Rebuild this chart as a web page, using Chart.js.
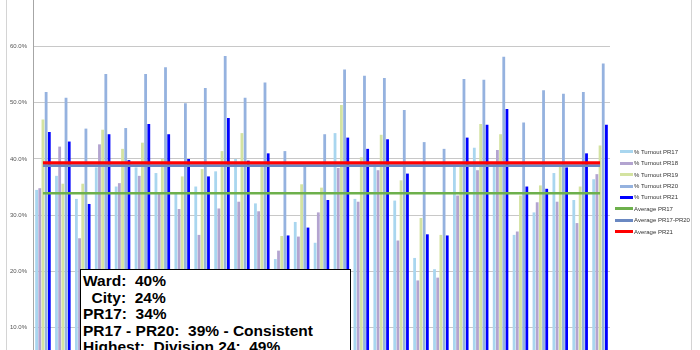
<!DOCTYPE html>
<html><head><meta charset="utf-8">
<script src="https://cdn.jsdelivr.net/npm/chart.js@4.4.1/dist/chart.umd.min.js"></script>
<style>
html,body{margin:0;padding:0;width:700px;height:350px;overflow:hidden;background:#fff;}
#wrap{position:relative;width:700px;height:350px;overflow:hidden;}
#c{position:absolute;left:0;top:0;}
#frame{position:absolute;left:6px;top:-2px;width:684px;height:360px;border-left:1px solid #d4d4d4;border-right:1px solid #d4d4d4;pointer-events:none;}
#note{position:absolute;left:80px;top:269px;width:267px;height:100px;background:#fff;border:1px solid #000;font-family:"Liberation Sans",Arial,sans-serif;font-weight:bold;font-size:15.5px;line-height:16.6px;white-space:pre;padding:3px 0 0 2px;color:#000;box-sizing:content-box;}
#legend{position:absolute;left:614px;top:146px;font-family:"Liberation Sans",Arial,sans-serif;font-size:6px;color:#333;}
.li{display:flex;align-items:center;height:11.45px;white-space:nowrap;}
.sw{display:inline-block;height:3px;margin-right:1px;}
</style></head>
<body>
<div id="wrap">
<canvas id="c" width="700" height="350"></canvas>
<div id="frame"></div>
<div id="legend"></div>
<div id="note">Ward:  40%
  City:  24%
PR17:  34%
PR17 - PR20:  39% - Consistent
Highest:  Division 24:  49%</div>
</div>
<script>
const categories = ['Division 1','Division 2','Division 3','Division 4','Division 5','Division 6','Division 7','Division 8','Division 9','Division 10',
  'Division 11','Division 12','Division 13','Division 14','Division 15','Division 16','Division 17','Division 18','Division 19','Division 20',
  'Division 21','Division 22','Division 23','Division 24','Division 25','Division 26','Division 27','Division 28','Division 29'];
const turnoutPR17 = [34.5,37.0,32.9,38.5,35.1,38.5,37.5,33.9,35.1,37.8,40.0,32.1,22.2,28.8,25.1,44.6,32.9,39.0,32.6,22.4,20.4,38.8,42.0,39.0,26.5,30.5,37.5,32.7,36.4];
const turnoutPR18 = [34.8,42.2,25.9,42.6,35.7,37.0,34.0,31.1,26.5,31.2,32.4,30.7,23.7,26.2,30.5,38.4,32.4,38.0,25.5,18.4,18.9,33.5,38.0,41.6,27.1,32.3,32.4,28.6,37.3];
const turnoutPR19 = [47.0,35.6,35.6,45.2,41.8,42.9,40.0,36.9,38.2,41.4,44.6,39.0,26.3,35.5,34.9,49.6,40.3,44.3,36.2,29.5,26.5,38.9,46.2,44.4,33.5,35.3,38.7,35.1,42.4];
const turnoutPR20 = [51.9,50.9,45.4,55.1,45.5,55.1,56.3,49.9,52.6,58.3,50.9,53.6,41.4,38.8,44.4,55.9,54.8,54.4,48.7,43.0,41.8,54.2,54.1,58.2,46.5,52.2,51.6,51.9,57.0];
const turnoutPR21 = [44.8,43.1,32.0,44.4,39.8,46.2,44.4,40.0,36.9,47.3,39.7,41.0,26.4,27.8,32.7,43.8,41.8,43.5,37.4,26.6,26.4,43.8,46.1,48.9,35.1,34.7,38.5,41.0,46.1];
const averagePR17 = 33.9;
const averagePR17toPR20 = 38.8;
const averagePR21 = 39.3;
const yTickValues = [10,20,30,40,50,60];

const barColors = ['#A9D6EF','#B3A4D0','#D4E3A1','#95B2DF','#0000FF'];
const barLabels = ['% Turnout PR17','% Turnout PR18','% Turnout PR19','% Turnout PR20','% Turnout PR21'];
const barSeries = [turnoutPR17,turnoutPR18,turnoutPR19,turnoutPR20,turnoutPR21];

const datasets = barSeries.map((d,i)=>({
  type:'bar', label:barLabels[i], data:d, backgroundColor:barColors[i],
  categoryPercentage:0.8, barPercentage:0.88, order:2
}));
const lineDefs = [
  ['Average PR17', averagePR17, '#6DB04C', 2.5],
  ['Average PR17-PR20', averagePR17toPR20, '#6A88C2', 2.5],
  ['Average PR21', averagePR21, '#FF0000', 3.5]
];
lineDefs.forEach(([lab,val,col,w])=>{
  datasets.push({type:'line', label:lab, data:categories.map(()=>val), borderColor:col, backgroundColor:col,
    borderWidth:w, pointRadius:0, fill:false, order:1});
});

const chart = new Chart(document.getElementById('c'), {
  data:{labels:categories, datasets},
  options:{
    responsive:false, animation:false, devicePixelRatio:1,
    layout:{padding:{left:0,right:90,top:0,bottom:0}},
    plugins:{legend:{display:false}, tooltip:{enabled:false}},
    scales:{
      x:{display:false, offset:true, grid:{display:false}},
      y:{min:6.03, max:68.27,
        afterBuildTicks:s=>{s.ticks = yTickValues.map(v=>({value:v}));},
        afterFit:s=>{s.width=33; s.paddingTop=0; s.paddingBottom=0;},
        ticks:{callback:v=>Number(v).toFixed(1)+'%', font:{family:'Liberation Sans', size:6}, color:'#555', padding:6},
        grid:{color:'#c8c8c8', lineWidth:1, drawTicks:false},
        border:{color:'#a6a6a6', width:1}
      }
    }
  }
});

const leg = document.getElementById('legend');
chart.data.datasets.forEach(ds=>{
  const row = document.createElement('div'); row.className='li';
  const sw = document.createElement('span'); sw.className='sw';
  const isLine = ds.type==='line';
  sw.style.background = isLine ? ds.borderColor : ds.backgroundColor;
  sw.style.width = isLine ? '18px' : '13px';
  sw.style.marginLeft = isLine ? '1px' : '6px';
  const t = document.createElement('span'); t.textContent = ds.label;
  row.appendChild(sw); row.appendChild(t); leg.appendChild(row);
});
</script>
</body></html>
